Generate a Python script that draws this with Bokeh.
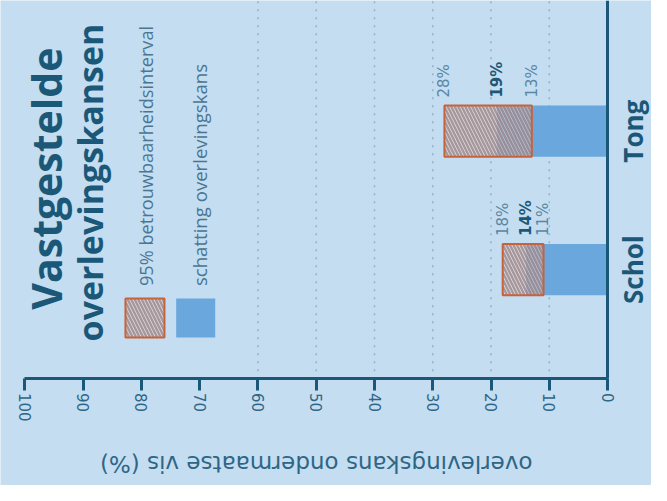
import math
from bokeh.plotting import figure
from bokeh.models import Range1d, FixedTicker, Label
from bokeh.core.properties import value
from bokeh.embed import file_html
from bokeh.resources import INLINE

# ---------------- data ----------------
species = ["Schol", "Tong"]
estimate = [14, 19]          # schatting overlevingskans (%)
ci_low = [11, 13]            # 95% betrouwbaarheidsinterval, ondergrens
ci_high = [18, 28]           # 95% betrouwbaarheidsinterval, bovengrens
x_ticks = [0, 10, 20, 30, 40, 50, 60, 70, 80, 90, 100]
grid_ticks = [10, 20, 30, 40, 50, 60]
title_lines = ["Vastgestelde", "overlevingskansen"]
legend_labels = ["95% betrouwbaarheidsinterval", "schatting overlevingskans"]
axis_title = "overlevingskans ondermaatse vis (%)"

# ---------------- style ----------------
BG = "#c4ddf1"
DARK = "#1b5878"
TICK_C = "#2e6686"
BAR = "#6aa7dc"
CI_LINE = "#c8623a"
LBL_C = "#5a88a4"
LEG_C = "#4a7691"

W, H = 651, 485
SX, SY = W / 667.0, H / 501.0        # reference-pixel -> canvas-pixel
FL, FR = 25 * SX, 622 * SX           # canvas x of value 100 and value 0
FB = 390 * SY                        # canvas y of the value axis
PPU = (FR - FL) / 100.0
C_SCHOL, C_TONG = 278 * SY, 135 * SY
UNIT = C_SCHOL - C_TONG
y_top = 2 + C_TONG / UNIT


def xv(rx):
    """reference x pixel -> data x"""
    return (FR - rx * SX) / PPU


def yv(ry):
    """reference y pixel -> data y"""
    return y_top - (ry * SY) / UNIT


pos = [i + 1 for i in range(len(species))]
BAR_H = 0.37
y_axis_loc = y_top - FB / UNIT

p = figure(width=W, height=H, output_backend="svg", toolbar_location=None,
           x_range=Range1d(FR / PPU, (FR - W) / PPU),
           y_range=Range1d(y_top - H / UNIT, y_top),
           x_axis_location="below", y_axis_location="right", min_border=0)
p.background_fill_color = BG
p.border_fill_color = BG
p.outline_line_color = None
p.xgrid.visible = False
p.ygrid.visible = False

# dotted grid lines
p.segment(x0=grid_ticks, x1=grid_ticks, y0=yv(383), y1=y_top,
          line_color="#94b2c8", line_dash="2 6", line_width=1.5)

# x axis (value axis)
xa = p.xaxis[0]
xa.fixed_location = y_axis_loc
xa.bounds = (0, 100)
xa.ticker = FixedTicker(ticks=x_ticks)
xa.axis_line_color = DARK
xa.axis_line_width = 3
xa.major_tick_line_color = DARK
xa.major_tick_line_width = 3
xa.major_tick_out = 12
xa.major_tick_in = 0
xa.minor_tick_line_color = None
xa.major_label_orientation = "vertical"
xa.major_label_text_font = "DejaVu Sans"
xa.major_label_text_font_size = "15px"
xa.major_label_text_color = TICK_C
xa.major_label_standoff = 3

# y axis (categories) - the axis line
ya = p.yaxis[0]
ya.fixed_location = 0
ya.bounds = (y_axis_loc, y_top)
ya.ticker = FixedTicker(ticks=pos)
ya.major_label_overrides = {pp: "" for pp in pos}
ya.axis_line_color = DARK
ya.axis_line_width = 3
ya.major_tick_line_color = None
ya.minor_tick_line_color = None
ya.major_tick_out = 0
ya.major_tick_in = 0
ya.major_label_text_font_size = "1px"

# bars
p.hbar(y=pos, left=0, right=estimate, height=BAR_H, fill_color=BAR, line_color=None)

hatch_kw = dict(fill_color="#ffe4e0", fill_alpha=0.5,
                hatch_pattern="\\", hatch_color="#8f777b", hatch_alpha=0.7,
                hatch_scale=7, hatch_weight=2.5,
                line_color=CI_LINE, line_width=2)
p.hbar(y=pos, left=ci_low, right=ci_high, height=BAR_H, **hatch_kw)

# value labels above the bars
top = [pp + BAR_H / 2 for pp in pos]
for vals, style, col in [(ci_high, "normal", LBL_C), (estimate, "bold", DARK), (ci_low, "normal", LBL_C)]:
    p.text(x=vals, y=top, text=[f"{v}%" for v in vals], angle=math.pi / 2,
           text_align="left", text_baseline="middle", y_offset=-8,
           text_font=value("DejaVu Sans"), text_font_size="15px",
           text_font_style=style, text_color=col)

# category names (rotated, next to the category axis)
p.text(x=[xv(647.6)] * len(species), y=pos, text=species, angle=math.pi / 2,
       text_align="center", text_baseline="middle",
       text_font=value("Open Sans"), text_font_style="bold",
       text_font_size="26px", text_color=DARK)

# value-axis title (upside down)
p.add_layout(Label(x=50, y=yv(479), text=axis_title, angle=math.pi,
                   text_align="center", text_baseline="middle",
                   text_font="DejaVu Sans", text_font_size="23px",
                   text_color=TICK_C))

# title
p.add_layout(Label(x=xv(47), y=yv(184), text=title_lines[0], angle=math.pi / 2,
                   text_align="center", text_baseline="middle",
                   text_font="Open Sans", text_font_style="bold",
                   text_font_size="41px", text_color=DARK))
p.add_layout(Label(x=xv(91.4), y=yv(188), text=title_lines[1], angle=math.pi / 2,
                   text_align="center", text_baseline="middle",
                   text_font="Open Sans", text_font_style="bold",
                   text_font_size="34px", text_color=DARK))

# legend
p.rect(x=[xv(148)], y=[yv(328)], width=39, height=39, width_units="screen",
       height_units="screen", **hatch_kw)
p.rect(x=[xv(200)], y=[yv(328)], width=39, height=39, width_units="screen",
       height_units="screen", fill_color=BAR, line_color=None)
p.add_layout(Label(x=xv(149), y=yv(295), text=legend_labels[0], angle=math.pi / 2,
                   text_align="left", text_baseline="middle",
                   text_font="Open Sans", text_font_size="18.2px", text_color=LEG_C))
p.add_layout(Label(x=xv(203.7), y=yv(295), text=legend_labels[1], angle=math.pi / 2,
                   text_align="left", text_baseline="middle",
                   text_font="Open Sans", text_font_size="18.6px", text_color=LEG_C))

open("out.html", "w").write(file_html(p, INLINE))
